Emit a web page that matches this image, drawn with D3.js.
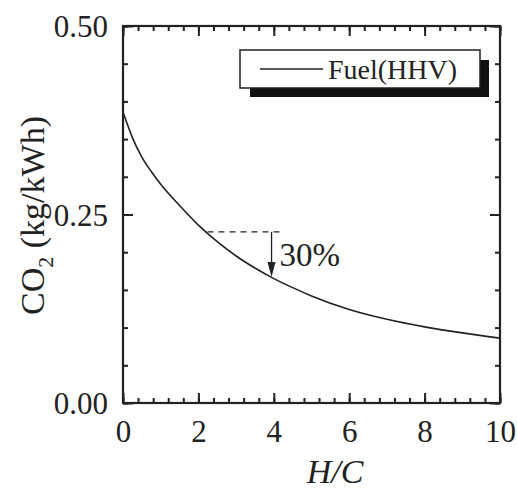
<!DOCTYPE html>
<html>
<head>
<meta charset="utf-8">
<script src="https://cdn.jsdelivr.net/npm/d3@7"></script>
<style>
  body { margin: 0; background: #fff; }
  svg text { font-family: "Liberation Serif", "Times New Roman", serif; fill: #222; }
</style>
</head>
<body>
<svg id="chart" width="517" height="489"></svg>
<script>
// 曲線資料
const hcValues  = [0, 0.25, 0.5, 0.75, 1, 1.5, 2, 2.5, 3, 3.5, 4, 4.5, 5, 6, 7, 8, 9, 10];
const co2Values = [0.386, 0.352, 0.326, 0.307, 0.290, 0.262, 0.236, 0.214, 0.195, 0.179, 0.165, 0.153, 0.142, 0.124, 0.111, 0.101, 0.093, 0.086];

// 刻度
const xMajor = [0, 2, 4, 6, 8, 10];
const xMinor = d3.range(0, 10.01, 0.4);
const yMajor = [0, 0.25, 0.5];
const yMinor = d3.range(0, 0.501, 0.05);

// 註解：30% 下降
const dashLevel = 0.227;
const dashRange = [2.24, 4.15];
const arrowAt = 3.94;
const arrowEnd = 0.167;
const arrowLabel = '30%';
const legendLabel = 'Fuel(HHV)';

const svg = d3.select('#chart');
const plotLeft = 123, plotRight = 500, plotTop = 26, plotBottom = 403;

const x = d3.scaleLinear().domain([0, 10]).range([plotLeft, plotRight]);
const y = d3.scaleLinear().domain([0, 0.5]).range([plotBottom, plotTop]);

//繪製軸線與刻度
function drawAxis(axisFn, scale, transform, values, size, withLabels, pad) {
  const g = svg.append('g')
    .attr('transform', transform)
    .call(axisFn(scale).tickValues(values).tickSizeInner(size).tickSizeOuter(0)
      .tickPadding(pad || 0)
      .tickFormat(withLabels ? (d => withLabels(d)) : ''));
  g.select('.domain').remove();
  g.selectAll('line').attr('stroke', '#222').attr('stroke-width', 2);
  g.selectAll('text').style('font-size', '31px').attr('fill', '#222');
  return g;
}

drawAxis(d3.axisBottom, x, `translate(0,${plotBottom})`, xMinor, -5, null);
drawAxis(d3.axisBottom, x, `translate(0,${plotBottom})`, xMajor, -10, d => d3.format('d')(d), 17);
drawAxis(d3.axisTop, x, `translate(0,${plotTop})`, xMinor, -5, null);
drawAxis(d3.axisTop, x, `translate(0,${plotTop})`, xMajor, -10, null);
drawAxis(d3.axisLeft, y, `translate(${plotLeft},0)`, yMinor, -5, null);
const yLab = drawAxis(d3.axisLeft, y, `translate(${plotLeft},0)`, yMajor, -10, d => d3.format('.2f')(d), 15);
yLab.selectAll('text').attr('dy', '0.34em');
drawAxis(d3.axisRight, y, `translate(${plotRight},0)`, yMinor, -5, null);
drawAxis(d3.axisRight, y, `translate(${plotRight},0)`, yMajor, -10, null);

// 外框
svg.append('rect')
  .attr('x', plotLeft).attr('y', plotTop)
  .attr('width', plotRight - plotLeft).attr('height', plotBottom - plotTop)
  .attr('fill', 'none').attr('stroke', '#222').attr('stroke-width', 2.2);

// 曲線
const points = hcValues.map((h, i) => [h, co2Values[i]]);
svg.append('path')
  .datum(points)
  .attr('d', d3.line().x(d => x(d[0])).y(d => y(d[1])).curve(d3.curveMonotoneX))
  .attr('fill', 'none').attr('stroke', '#222').attr('stroke-width', 1.6);

// 虛線與箭頭
svg.append('line')
  .attr('x1', x(dashRange[0])).attr('x2', x(dashRange[1]))
  .attr('y1', y(dashLevel)).attr('y2', y(dashLevel))
  .attr('stroke', '#222').attr('stroke-width', 1.3).attr('stroke-dasharray', '6,5');
svg.append('line')
  .attr('x1', x(arrowAt)).attr('x2', x(arrowAt))
  .attr('y1', y(dashLevel)).attr('y2', y(arrowEnd) - 10)
  .attr('stroke', '#222').attr('stroke-width', 1.3);
svg.append('path')
  .attr('d', `M${x(arrowAt) - 4},${y(arrowEnd) - 15} L${x(arrowAt) + 4},${y(arrowEnd) - 15} L${x(arrowAt)},${y(arrowEnd)} Z`)
  .attr('fill', '#222');
svg.append('text')
  .attr('x', x(arrowAt) + 8).attr('y', 266)
  .style('font-size', '33px').text(arrowLabel);

// 圖例
const lg = svg.append('g');
lg.append('rect').attr('x', 250).attr('y', 60).attr('width', 239).attr('height', 37).attr('fill', '#111');
lg.append('rect').attr('x', 240).attr('y', 50).attr('width', 240).attr('height', 38)
  .attr('fill', '#fff').attr('stroke', '#222').attr('stroke-width', 1.5);
lg.append('line').attr('x1', 260).attr('x2', 323).attr('y1', 69).attr('y2', 69)
  .attr('stroke', '#222').attr('stroke-width', 1.5);
lg.append('text').attr('x', 328).attr('y', 79).style('font-size', '28px').text(legendLabel);

// 軸標題
svg.append('text')
  .attr('x', 335).attr('y', 483).attr('text-anchor', 'middle')
  .style('font-size', '34px').style('font-style', 'italic').text('H/C');

const yt = svg.append('text')
  .attr('transform', `translate(44,${(plotTop + plotBottom) / 2 + 1}) rotate(-90)`)
  .attr('text-anchor', 'middle').style('font-size', '34px');
yt.append('tspan').text('CO');
yt.append('tspan').attr('dy', 9).style('font-size', '22px').text('2');
yt.append('tspan').attr('dy', -9).text(' (kg/kWh)');
</script>
</body>
</html>
